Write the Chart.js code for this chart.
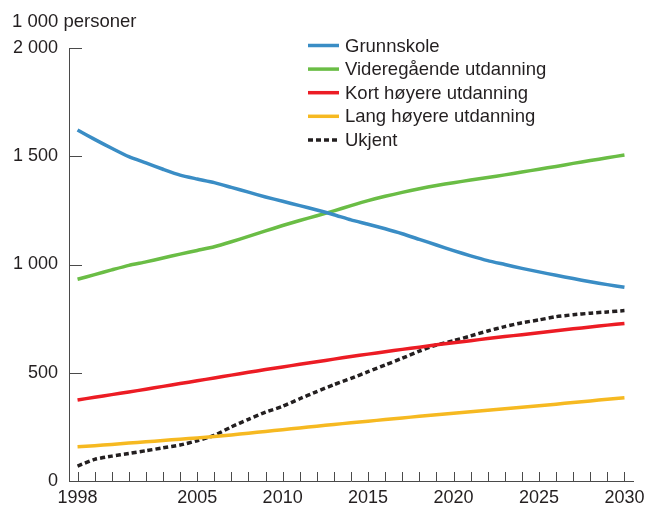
<!DOCTYPE html>
<html>
<head>
<meta charset="utf-8">
<script src="https://cdn.jsdelivr.net/npm/chart.js@4.4.1/dist/chart.umd.min.js"></script>
<style>
  html, body { margin: 0; padding: 0; background: #fff; }
  #wrap { width: 646px; height: 513px; }
</style>
</head>
<body>
<div id="wrap"><canvas id="grafico" width="646" height="513"></canvas></div>
<script>
const aar = [];
for (let a = 1998; a <= 2030; a++) aar.push(a);

const aarMedTekst = [1998, 2005, 2010, 2015, 2020, 2025, 2030];
const yTicks = [0, 500, 1000, 1500, 2000];

const grunnskole = [1621, 1578, 1537, 1498, 1469, 1440, 1413, 1395, 1378, 1356, 1334,
  1312, 1292, 1272, 1252, 1230, 1206, 1186, 1165, 1142, 1116, 1090, 1064, 1040, 1018,
  1000, 982, 966, 950, 935, 920, 907, 895];
const videregaende = [932, 953, 975, 996, 1012, 1030, 1048, 1065, 1082, 1105, 1130,
  1155, 1180, 1203, 1225, 1248, 1272, 1295, 1315, 1333, 1350, 1365, 1378, 1390, 1402,
  1414, 1427, 1440, 1453, 1467, 1480, 1493, 1506];
const kortHoyere = [374, 387, 399, 411, 424, 437, 450, 463, 476, 489, 502, 515, 527,
  539, 551, 563, 575, 586, 597, 608, 618, 629, 639, 648, 658, 667, 676, 685, 694, 703,
  711, 720, 728];
const langHoyere = [158, 163, 169, 175, 181, 187, 193, 199, 205, 213, 221, 229, 237,
  245, 253, 261, 269, 276, 284, 291, 299, 306, 313, 320, 327, 334, 341, 348, 355, 363,
  370, 378, 385];
const ukjent = [69, 100, 115, 127, 140, 153, 166, 186, 211, 250, 285, 318, 345, 380,
  413, 445, 474, 505, 536, 567, 600, 628, 648, 670, 693, 713, 731, 744, 759, 768, 775,
  781, 787];

const tekstFarge = '#231f20';
const aksFarge = '#4a4a4a';
const font = '"Liberation Sans", Arial, sans-serif';

function serie(navn, data, farge, strek) {
  return {
    label: navn,
    data: data,
    borderColor: farge,
    backgroundColor: farge,
    borderWidth: 3.5,
    borderDash: strek || [],
    pointRadius: 0,
    fill: false,
    tension: 0.2
  };
}

// egne tegninger: aksetittel, tikk-merker og forklaring
const ekstra = {
  id: 'ekstra',
  afterDraw(chart) {
    const ctx = chart.ctx;
    const x = chart.scales.x;
    const y = chart.scales.y;
    const y0 = y.getPixelForValue(0);
    ctx.save();
    ctx.strokeStyle = aksFarge;
    ctx.lineWidth = 1;
    // tikk opp fra x-aksen
    aar.forEach((a, i) => {
      const px = Math.round(x.getPixelForValue(i)) + 0.5;
      ctx.beginPath();
      ctx.moveTo(px, y0);
      ctx.lineTo(px, y0 - 9);
      ctx.stroke();
    });
    // tikk inn fra y-aksen
    yTicks.forEach(v => {
      const py = Math.round(y.getPixelForValue(v)) + 0.5;
      ctx.beginPath();
      ctx.moveTo(chart.chartArea.left, py);
      ctx.lineTo(chart.chartArea.left + 13, py);
      ctx.stroke();
    });
    // aksetittel
    ctx.fillStyle = tekstFarge;
    ctx.font = '18.5px ' + font;
    ctx.textAlign = 'left';
    ctx.textBaseline = 'middle';
    ctx.fillText('1 000 personer', 12, 22);
    // forklaring
    chart.data.datasets.forEach((ds, i) => {
      const ly = 45.5 + i * 23.6;
      ctx.strokeStyle = ds.borderColor;
      ctx.lineWidth = 3.5;
      ctx.setLineDash(ds.borderDash.length ? [5, 3] : []);
      ctx.beginPath();
      ctx.moveTo(308, ly);
      ctx.lineTo(339, ly);
      ctx.stroke();
      ctx.setLineDash([]);
      ctx.fillStyle = tekstFarge;
      ctx.fillText(ds.label, 345, ly + 1);
    });
    ctx.restore();
  }
};

const grafico = new Chart(document.getElementById('grafico').getContext('2d'), {
  type: 'line',
  data: {
    labels: aar,
    datasets: [
      serie('Grunnskole', grunnskole, '#3a8dc5'),
      serie('Videregående utdanning', videregaende, '#6abd45'),
      serie('Kort høyere utdanning', kortHoyere, '#ec1c24'),
      serie('Lang høyere utdanning', langHoyere, '#f6b921'),
      serie('Ukjent', ukjent, '#231f20', [5, 3])
    ]
  },
  options: {
    responsive: false,
    animation: false,
    layout: { padding: { top: 48, right: 13, bottom: 0, left: 0 } },
    plugins: {
      legend: { display: false },
      tooltip: { enabled: false }
    },
    scales: {
      x: {
        type: 'category',
        offset: true,
        grid: { display: false, drawTicks: false },
        border: { display: true, color: aksFarge, width: 1 },
        ticks: {
          autoSkip: false,
          maxRotation: 0,
          padding: 6,
          color: tekstFarge,
          font: { size: 18, family: font },
          callback: function (v, i) {
            const a = aar[i];
            return aarMedTekst.includes(a) ? String(a) : '';
          }
        },
        afterFit: s => { s.height = 32; s.paddingLeft = 0; s.paddingRight = 0; }
      },
      y: {
        min: 0,
        max: 2000,
        grid: { display: false, drawTicks: false },
        border: { display: true, color: aksFarge, width: 1 },
        afterBuildTicks: s => { s.ticks = yTicks.map(v => ({ value: v })); },
        ticks: {
          padding: 11,
          color: tekstFarge,
          font: { size: 18, family: font },
          callback: v => v >= 1000 ? Math.floor(v / 1000) + ' ' + String(v % 1000).padStart(3, '0') : String(v)
        },
        afterFit: s => { s.width = 69; s.paddingTop = 0; s.paddingBottom = 0; }
      }
    }
  },
  plugins: [ekstra]
});
</script>
</body>
</html>
